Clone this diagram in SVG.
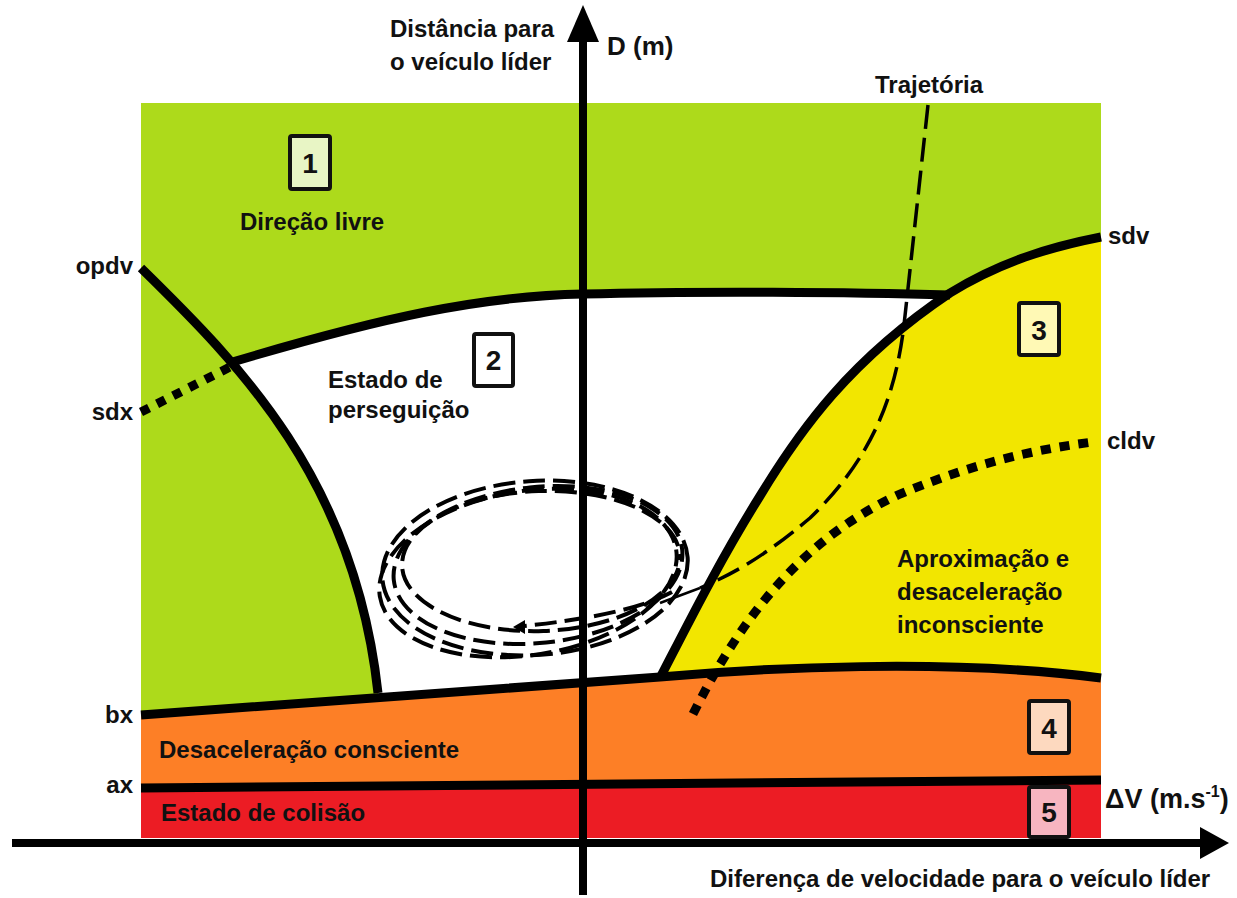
<svg xmlns="http://www.w3.org/2000/svg" width="1237" height="898" viewBox="0 0 1237 898">
<style>
text{font-family:"Liberation Sans",Arial,sans-serif;font-weight:bold;fill:#111;}
.t{font-size:24px;}
.num{font-size:28px;text-anchor:middle;}
.box{stroke:#111;stroke-width:4;}
.bd{fill:none;stroke:#000;stroke-width:9;stroke-linejoin:round;}
.dot{fill:none;stroke:#000;stroke-width:9;}
.dash{fill:none;stroke:#000;stroke-width:3.5;stroke-dasharray:24 9;}
.sp{fill:none;stroke:#000;stroke-width:4;stroke-dasharray:22 8;}
.ax{stroke:#000;stroke-width:8;fill:none;}
</style>
<rect width="1237" height="898" fill="#fff"/>
<g id="regions">
<rect x="141" y="103" width="960" height="735" fill="#ADDA1B"/>
<path d="M231.5,362.3 C380,318 480,296 583,294 C700,291 850,292 948,296 L880,360 L700,690 L378,700 L378,693 C361.9,543.9 300.7,442.8 231.5,362.3 Z" fill="#fff"/>
<path d="M660,678 C690,620 720,560 760,496 C800,430 850,360 950,293 C1000,262 1050,247 1101,237 L1101,695 L640,695 Z" fill="#F2E600"/>
<path d="M141,715 L660,677 C760,668 950,658 1101,678 L1101,792 L141,792 Z" fill="#FD7F26"/>
<path d="M141,788 L1101,780 L1101,838 L141,838 Z" fill="#EC1C24"/>
</g>
<g id="connectors">
<path class="bd" d="M231.5,362.3 C380,318 480,296 583,294 C700,291 850,292 950,295"/>
<path class="bd" d="M141,268 C240,365 355,480 378,693"/>
<path class="bd" d="M660,678 C690,620 720,560 760,496 C800,430 850,360 950,293 C1000,262 1050,247 1101,237"/>
<path class="bd" d="M141,715 L660,677 C760,668 950,658 1101,678"/>
<path class="bd" d="M141,788 L1101,780"/>
<path class="dot" d="M141,412 L232,366" stroke-dasharray="9 9"/>
<path class="dot" d="M693,714 C740,620 800,540 900,494 C970,465 1030,450 1093,442" stroke-width="10" stroke-dasharray="10 9"/>
<path class="dash" d="M928,105 L904,325 C895,400 870,460 810,518 C760,560 730,575 700,588"/>
<path fill="none" stroke="#000" stroke-width="2.5" d="M700,588 L660,603"/>
<g id="spiral">
<ellipse class="sp" cx="535" cy="568" rx="153" ry="87" transform="rotate(-4 535 568)"/>
<ellipse class="sp" cx="538" cy="565" rx="145" ry="78" transform="rotate(-6 538 565)" stroke-dashoffset="10"/>
<ellipse class="sp" cx="541" cy="561" rx="139" ry="70" transform="rotate(-2 541 561)" stroke-dashoffset="18"/>
<ellipse class="sp" cx="528" cy="573" rx="150" ry="82" transform="rotate(-9 528 573)" stroke-dashoffset="5"/>
<path class="sp" d="M672,592 Q630,615 524,626"/>
<polygon points="513,627 525,620 525,634" fill="#000"/>
</g>
<line class="ax" x1="583" y1="895" x2="583" y2="38"/>
<polygon points="583,5 567,42 599,42" fill="#000"/>
<line class="ax" x1="12" y1="843" x2="1202" y2="843"/>
<polygon points="1229,843 1200,827 1200,859" fill="#000"/>
</g>
<g id="axis-labels">
<text class="t" x="390" y="37">Distância para</text>
<text class="t" x="390" y="70">o veículo líder</text>
<text x="607" y="55" font-size="26">D (m)</text>
<text class="t" x="710" y="887">Diferença de velocidade para o veículo líder</text>
<text x="1105" y="808" font-size="27">ΔV (m.s<tspan font-size="16" dy="-11">-1</tspan><tspan dy="11">)</tspan></text>
<text class="t" x="875" y="93">Trajetória</text>
</g>
<g id="curve-labels">
<text class="t" x="133" y="274" text-anchor="end">opdv</text>
<text class="t" x="133" y="420" text-anchor="end">sdx</text>
<text class="t" x="133" y="723" text-anchor="end">bx</text>
<text class="t" x="133" y="793" text-anchor="end">ax</text>
<text class="t" x="1108" y="244">sdv</text>
<text class="t" x="1107" y="449">cldv</text>
</g>
<g id="zone1">
<rect class="box" x="290" y="136" width="40" height="53" rx="2" fill="#E8F5C5"/>
<text class="num" x="310" y="173">1</text>
<text class="t" x="240" y="230">Direção livre</text>
</g>
<g id="zone2">
<rect class="box" x="474" y="334" width="39" height="52" rx="2" fill="#fff"/>
<text class="num" x="493.5" y="370">2</text>
<text class="t" x="328" y="388">Estado de</text>
<text class="t" x="328" y="418">perseguição</text>
</g>
<g id="zone3">
<rect class="box" x="1019" y="303" width="40" height="52" rx="2" fill="#FFF9B5"/>
<text class="num" x="1039" y="340">3</text>
<text class="t" x="897" y="567">Aproximação e</text>
<text class="t" x="897" y="600">desaceleração</text>
<text class="t" x="897" y="633">inconsciente</text>
</g>
<g id="zone4">
<rect class="box" x="1029" y="701" width="40" height="52" rx="2" fill="#FDD9BF"/>
<text class="num" x="1049" y="738">4</text>
<text class="t" x="159" y="758">Desaceleração consciente</text>
</g>
<g id="zone5">
<rect class="box" x="1029" y="787" width="40" height="50" rx="2" fill="#F7B5C0"/>
<text class="num" x="1049" y="822">5</text>
<text class="t" x="161" y="821">Estado de colisão</text>
</g>
</svg>
